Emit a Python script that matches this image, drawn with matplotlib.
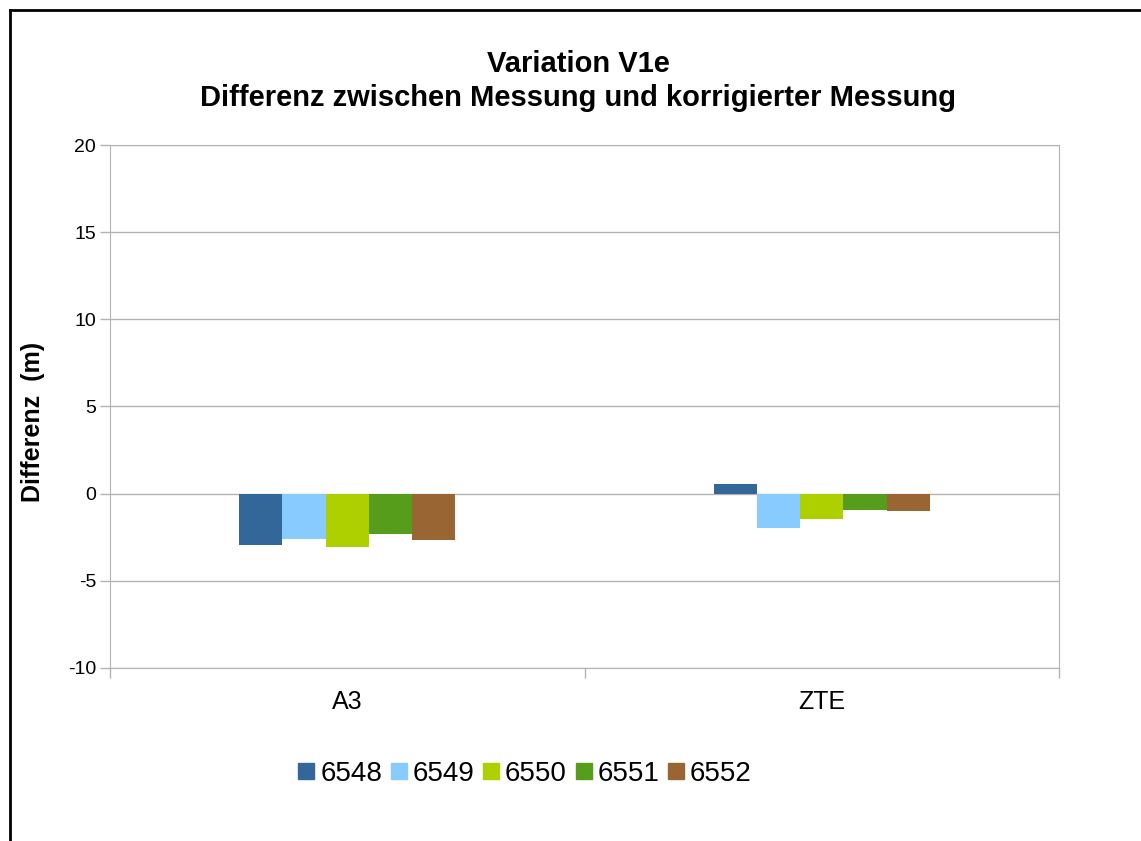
import numpy as np
import matplotlib.pyplot as plt
from matplotlib.lines import Line2D

plt.rcParams['font.family'] = ['Liberation Sans', 'DejaVu Sans']
plt.rcParams['axes.unicode_minus'] = False

categories = ['A3', 'ZTE']
series = ['6548', '6549', '6550', '6551', '6552']
values = [
    [-2.93, 0.57],
    [-2.58, -1.95],
    [-3.04, -1.43],
    [-2.29, -0.92],
    [-2.64, -0.98],
]
colors = ['#336699', '#87CBFF', '#AFD000', '#579D1C', '#996633']

fig = plt.figure(figsize=(11.41, 8.41), dpi=100)
ax = fig.add_axes([110 / 1141, 1 - 668 / 841, 949 / 1141, 523 / 841])

x = np.arange(len(categories))
w = 0.091
for i, s in enumerate(series):
    ax.bar(x + (i - 2) * w, values[i], width=w, color=colors[i], label=s, zorder=3)

grid_c = '#b3b3b3'
ax.set_xlim(-0.5, 1.5)
ax.set_ylim(-10, 20)
ax.set_yticks(range(-10, 21, 5))
ax.set_xticks(x)
ax.set_xticklabels(categories, fontsize=18)
ax.set_xticks([-0.5, 0.5, 1.5], minor=True)
ax.tick_params(axis='x', which='major', length=0, pad=16)
ax.tick_params(axis='x', which='minor', length=7, color=grid_c, width=1)
ax.tick_params(axis='y', length=7, color=grid_c, width=1, labelsize=14, pad=3)
ax.yaxis.grid(True, color=grid_c, linewidth=1, zorder=0)
for sp in ax.spines.values():
    sp.set_color(grid_c)

ax.set_ylabel('Differenz  (m)', fontsize=18, fontweight='bold')
ax.yaxis.set_label_coords(-0.081, 0.47)
ax.yaxis.label.set_va('center')

fig.suptitle('Variation V1e\nDifferenz zwischen Messung und korrigierter Messung',
             fontsize=21, fontweight='bold', y=1 - 50 / 841, va='top', x=578 / 1141,
             linespacing=1.25)

handles = [Line2D([], [], marker='s', linestyle='none', markersize=11,
                  markerfacecolor=c, markeredgecolor=c) for c in colors]
fig.legend(handles, series, loc='center', bbox_to_anchor=(522 / 1141, 1 - 774 / 841),
           ncol=5, frameon=False, fontsize=20, handletextpad=0.0, columnspacing=0.1,
           handlelength=1.0)

# outer border (left and top edges visible)
fig.add_artist(Line2D([9.5 / 1141, 9.5 / 1141], [0, 1 - 9.5 / 841], color='black', lw=2,
                      transform=fig.transFigure))
fig.add_artist(Line2D([9.5 / 1141, 1], [1 - 9.5 / 841, 1 - 9.5 / 841], color='black', lw=2,
                      transform=fig.transFigure))

fig.savefig('out.png', dpi=100)
